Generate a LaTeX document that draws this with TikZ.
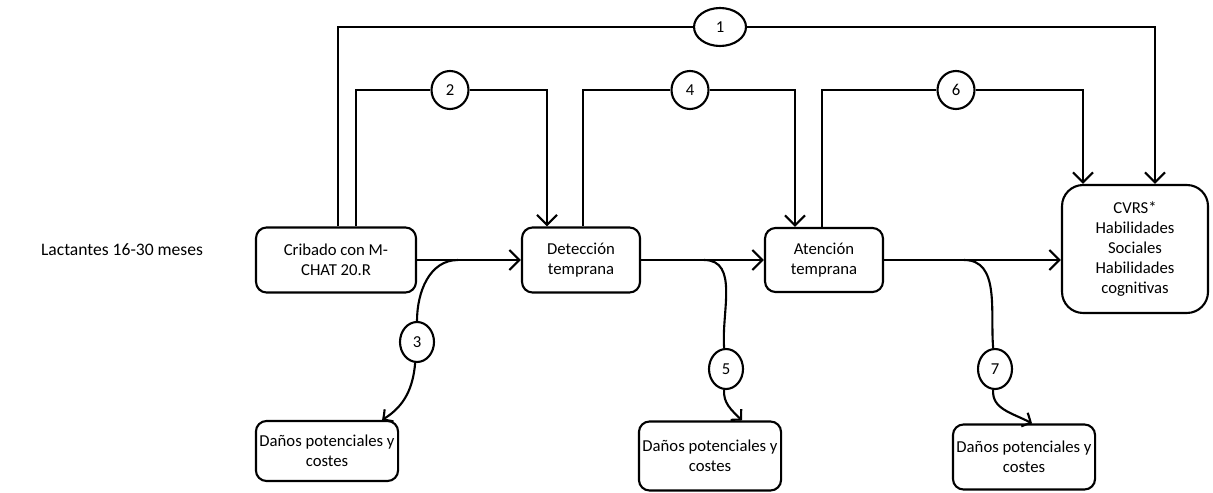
\documentclass[tikz,border=0pt]{standalone}
\usepackage{fontspec}
\setmainfont{Carlito}
\usetikzlibrary{positioning,arrows.meta,shapes.geometric,calc,bending}

\begin{document}
\begin{tikzpicture}[
        x=0.02cm, y=-0.02cm,
        font=\fontsize{9.5}{11.5}\selectfont,
        box/.style={draw, line width=1.2pt, rounded corners=6pt, align=center, inner sep=2pt},
        num/.style={draw, ellipse, fill=white, line width=1.2pt, inner sep=0pt, minimum width=0.74cm, minimum height=0.76cm},
        line/.style={-{Straight Barb[length=2mm,width=4mm]}, line width=1.2pt},
        harm/.style={-{Straight Barb[length=1.4mm,width=3mm,bend]}, line width=1.2pt},
        link/.style={line width=1.2pt}
    ]
        \useasboundingbox (0,0) rectangle (1213,493);

        \node[font=\fontsize{10}{12}\selectfont] (lact) at (122,250) {Lactantes 16-30 meses};

        \node[box, minimum width=3.2cm, minimum height=1.3cm] (crib) at (336,260) {Cribado con M-\\CHAT 20.R};
        \node[box, minimum width=2.36cm, minimum height=1.3cm] (det) at (581,260) {Detección\\temprana};
        \node[box, minimum width=2.36cm, minimum height=1.28cm] (aten) at (824,260) {Atención\\temprana};
        \node[box, minimum width=2.92cm, minimum height=2.56cm, rounded corners=12pt] (cvrs) at (1135,249) {CVRS*\\Habilidades\\Sociales\\Habilidades\\cognitivas};

        \node[box, minimum width=2.56cm, minimum height=1.2cm] (dan1) at (327,451) {Daños potenciales y\\costes};
        \node[box, minimum width=2.8cm, minimum height=1.38cm] (dan2) at (710,456) {Daños potenciales y\\costes};
        \node[box, minimum width=2.76cm, minimum height=1.3cm] (dan3) at (1024,457) {Daños potenciales y\\costes};

        % numbered links over the top
        \node[num, minimum width=1.04cm] (n1) at (720,27) {1};
        \node[num] (n2) at (450,90) {2};
        \node[num] (n4) at (690,90) {4};
        \node[num] (n6) at (956,90) {6};

        \draw[line] ($(crib.north)+(2,0)$) |- (n1) -| ($(cvrs.north)+(20,0)$);
        \draw[line] ($(crib.north)+(20,0)$) |- (n2) -| ($(det.north)+(-34,0)$);
        \draw[line] ($(det.north)+(2,0)$) |- (n4) -| ($(aten.north)+(-29,0)$);
        \draw[line] ($(aten.north)+(-2,0)$) |- (n6) -| ($(cvrs.north)+(-52,0)$);

        % main flow
        \draw[line] (crib) -- (det);
        \draw[line] (det) -- (aten);
        \draw[line] (aten.east) -- (aten.east -| cvrs.west);

        % branches to harms
        \coordinate (b3) at (458,260);
        \coordinate (b5) at (704,260);
        \coordinate (b7) at (964,260);
        \node[num, minimum width=0.68cm, minimum height=0.8cm] (n3) at (417,342) {3};
        \node[num, minimum width=0.68cm, minimum height=0.8cm] (n5) at (726,369) {5};
        \node[num, minimum width=0.68cm, minimum height=0.8cm] (n7) at (995,369) {7};

        \draw[link] (b3) to[out=180, in=90] (n3);
        \draw[harm] (n3) to[out=-95, in=30] ($(dan1.north)+(55,0)$);
        \draw[link] (b5) to[out=0, in=95] (n5);
        \draw[harm] (n5) to[out=-95, in=135] ($(dan2.north)+(32,0)$);
        \draw[link] (b7) to[out=0, in=95] (n7);
        \draw[harm] (n7) to[out=-95, in=150] ($(dan3.north)+(8,0)$);
    \end{tikzpicture}
\end{document}
